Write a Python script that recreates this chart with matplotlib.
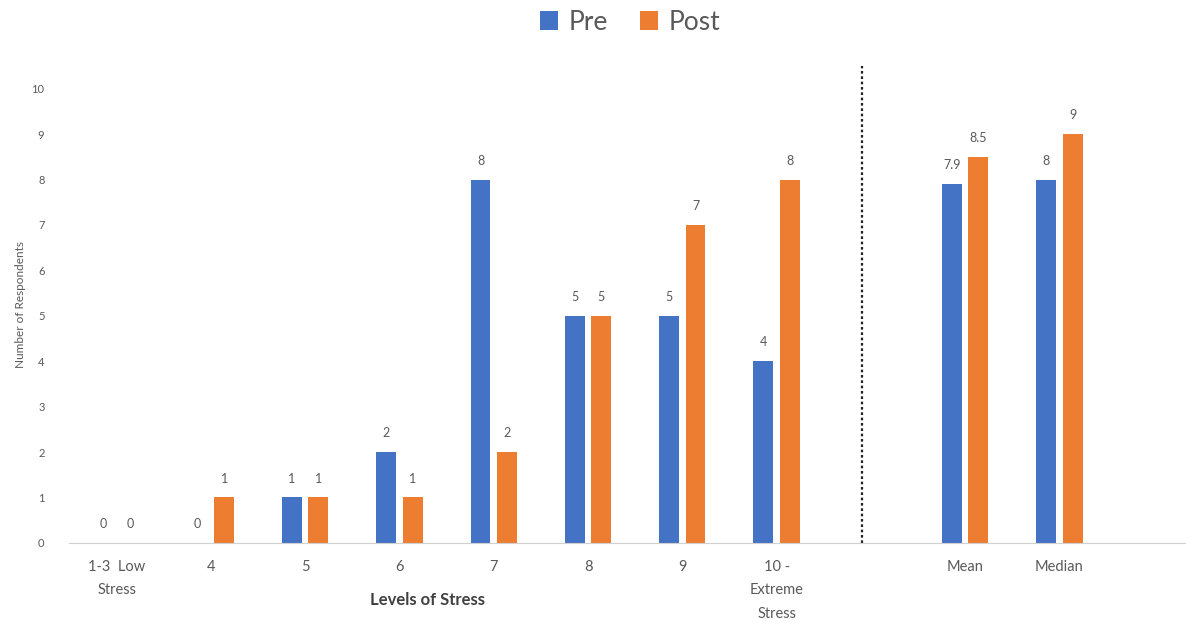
import matplotlib
matplotlib.use('Agg')
import matplotlib.pyplot as plt
import numpy as np

# data
CATEGORIES = ['1-3  Low\nStress', '4', '5', '6', '7', '8', '9', '10 -\nExtreme\nStress',
              'Mean', 'Median']
PRE = [0, 0, 1, 2, 8, 5, 5, 4, 7.9, 8]
POST = [0, 1, 1, 1, 2, 5, 7, 8, 8.5, 9]
PRE_LABELS = ['0', '0', '1', '2', '8', '5', '5', '4', '7.9', '8']
POST_LABELS = ['0', '1', '1', '1', '2', '5', '7', '8', '8.5', '9']
SLOTS = [0, 1, 2, 3, 4, 5, 6, 7, 9, 10]   # slot 8 is the gap with the divider
DIVIDER = 7.91

BLUE = '#4472C4'
ORANGE = '#ED7D31'
GREY = '#595959'

plt.rcParams['font.family'] = ['Lato', 'DejaVu Sans']

fig = plt.figure(figsize=(11.98, 6.32), dpi=100)
ax = fig.add_axes([0.058, 0.141, 0.931, 0.7546])

x = np.array(SLOTS, dtype=float)
w = 0.21
off = 0.14
b1 = ax.bar(x - off, PRE, w, color=BLUE, label='Pre')
b2 = ax.bar(x + off, POST, w, color=ORANGE, label='Post')

for xs, vals, labs in ((x - off, PRE, PRE_LABELS), (x + off, POST, POST_LABELS)):
    for xi, v, t in zip(xs, vals, labs):
        ax.text(xi, v + 0.28, t, ha='center', va='bottom', fontsize=9, color=GREY)

ax.axvline(DIVIDER, color='#222222', linestyle=(0, (1.2, 1.2)), linewidth=1.6)

ax.set_xlim(-0.5, 11.33)
ax.set_ylim(0, 10.5)
ax.set_yticks(range(0, 11))
ax.set_xticks(x)
ax.set_xticklabels(CATEGORIES, fontsize=10.5, color=GREY, linespacing=1.9, va='top')
ax.tick_params(axis='y', labelsize=8, colors=GREY, length=0, pad=18)
ax.tick_params(axis='x', length=0, pad=12)

for s in ['top', 'right', 'left']:
    ax.spines[s].set_visible(False)
ax.spines['bottom'].set_color('#d0d0d0')

ax.set_ylabel('Number of Respondents', fontsize=8.5, color=GREY, labelpad=4)
fig.text(428 / 1198, 1 - 600 / 632, 'Levels of Stress', ha='center', va='center',
         fontsize=12, fontweight='bold', color='#404040')

fig.legend(handles=[b1, b2], loc='center', bbox_to_anchor=(630 / 1198, 1 - 22 / 632),
           ncol=2, frameon=False, fontsize=19, handlelength=0.7, handleheight=0.7,
           handletextpad=0.4, columnspacing=1.2, labelcolor=GREY)

fig.savefig('out.png', dpi=100)
